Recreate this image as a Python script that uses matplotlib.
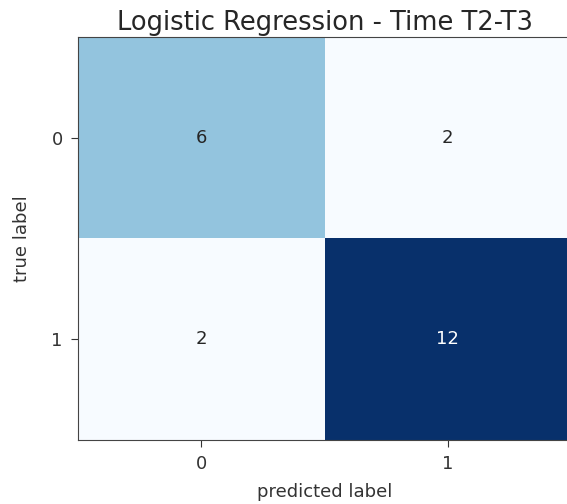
import numpy as np
import matplotlib
matplotlib.use("Agg")
import matplotlib.pyplot as plt

# confusion matrix values (rows = true, cols = predicted)
classes = [0, 1]
conf_mat = np.array([[6, 2],
                     [2, 12]])
title = "Logistic Regression - Time T2-T3"

fig = plt.figure(figsize=(5.67, 5.04), dpi=100)
ax = fig.add_axes([0.1376, 0.127, 0.8695, 0.7996])

ax.imshow(conf_mat, cmap="Blues", aspect="auto")

thresh = conf_mat.max() / 2.0
for i in range(conf_mat.shape[0]):
    for j in range(conf_mat.shape[1]):
        ax.text(j, i, str(conf_mat[i, j]), ha="center", va="center",
                fontsize=13,
                color="white" if conf_mat[i, j] > thresh else "#262626")

ax.set_xticks(range(len(classes)))
ax.set_yticks(range(len(classes)))
ax.set_xticklabels(classes)
ax.set_yticklabels(classes)
ax.tick_params(labelsize=13, colors="#333333", length=5, pad=6)
for s in ax.spines.values():
    s.set_color("#444444")

ax.set_xlabel("predicted label", fontsize=13, color="#333333", labelpad=7)
ax.set_ylabel("true label", fontsize=13, color="#333333", labelpad=15)
ax.set_title(title, fontsize=18.5, color="#262626", pad=5)

fig.savefig("out.png", dpi=100)
